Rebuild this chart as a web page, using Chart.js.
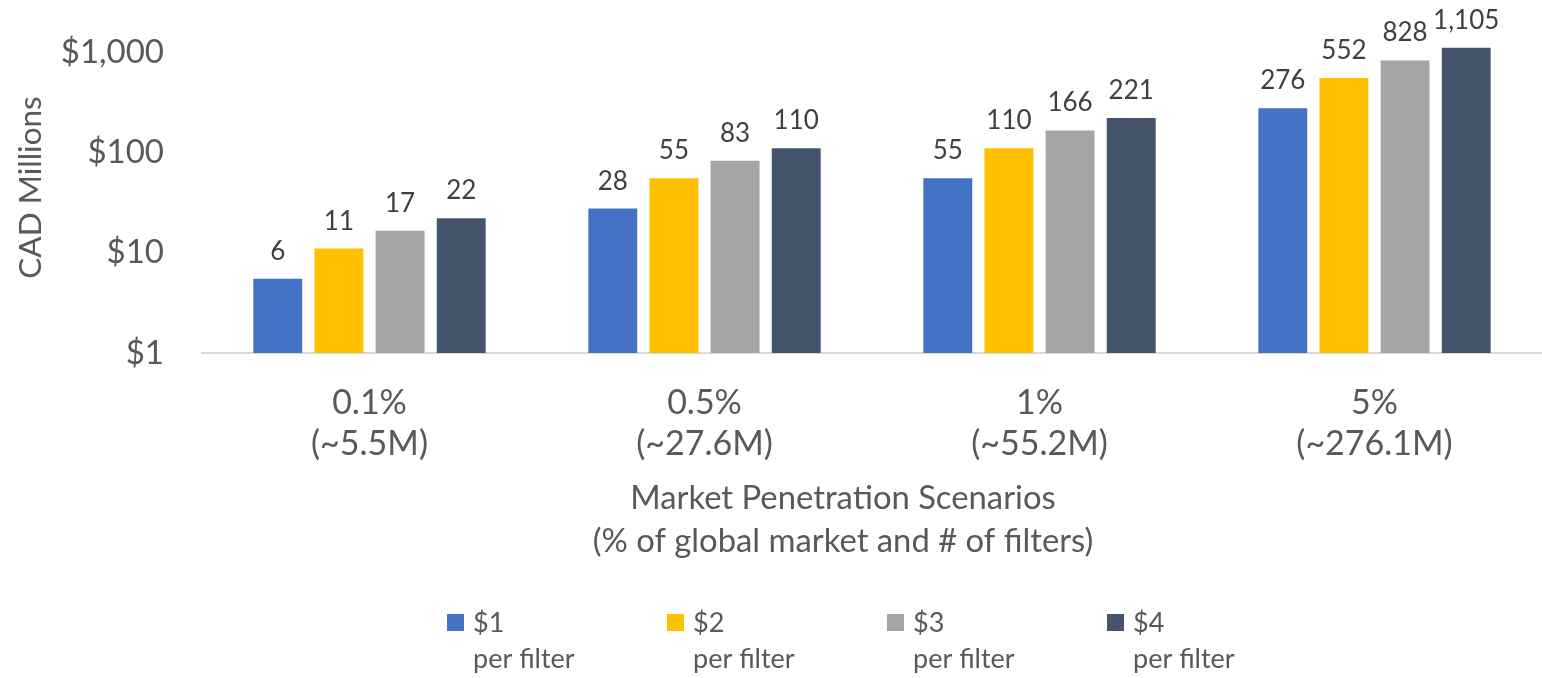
<!DOCTYPE html>
<html>
<head>
<meta charset="utf-8">
<script src="https://cdn.jsdelivr.net/npm/chart.js@4"></script>
<style>
html, body { margin: 0; padding: 0; background: #fff; }
</style>
</head>
<body>
<canvas id="myChart" width="1542" height="678"></canvas>
<script>
// categories and series
var categories = [['0.1%', '(~5.5M)'], ['0.5%', '(~27.6M)'], ['1%', '(~55.2M)'], ['5%', '(~276.1M)']];
var seriesNames = ['$1', '$2', '$3', '$4'];
var seriesColors = ['#4472C4', '#FFC000', '#A5A5A5', '#44546A'];
var perFilter1 = [5.5, 27.6, 55.2, 276.1];
var perFilter2 = [11, 55.2, 110.4, 552.3];
var perFilter3 = [16.6, 82.8, 165.6, 828.4];
var perFilter4 = [22.1, 110.4, 220.8, 1104.6];
var yTicks = [1, 10, 100, 1000];
var xTitle = ['Market Penetration Scenarios', '(% of global market and # of filters)'];
var yTitle = 'CAD Millions';

var textGrey = '#595959';
var font = 'Lato';

// value labels above the bars
var barLabels = {
    id: 'barLabels',
    afterDatasetsDraw: function(chart) {
        var ctx = chart.ctx;
        ctx.save();
        ctx.font = '26px ' + font;
        ctx.fillStyle = '#404040';
        ctx.textAlign = 'center';
        ctx.textBaseline = 'alphabetic';
        chart.data.datasets.forEach(function(ds, i) {
            chart.getDatasetMeta(i).data.forEach(function(bar, j) {
                ctx.fillText(Math.round(ds.data[j]).toLocaleString('en-US'), bar.x, bar.y - 19);
            });
        });
        ctx.restore();
    }
};

// x axis title, centred a bit left of the plot like the original
var axisTitle = {
    id: 'axisTitle',
    afterDraw: function(chart) {
        var ctx = chart.ctx;
        var cx = 843, base = chart.chartArea.bottom + 156;
        ctx.save();
        ctx.font = '32.8px ' + font;
        ctx.fillStyle = textGrey;
        ctx.textAlign = 'center';
        ctx.textBaseline = 'alphabetic';
        xTitle.forEach(function(line, i) {
            ctx.fillText(line, cx, base + i * 43);
        });
        ctx.restore();
    }
};

// legend row at the bottom, two lines per item
var legendRow = {
    id: 'legendRow',
    afterDraw: function(chart) {
        var ctx = chart.ctx;
        var startX = 447, step = 220, box = 17, top = 614;
        ctx.save();
        ctx.font = '27px ' + font;
        ctx.textBaseline = 'alphabetic';
        ctx.textAlign = 'left';
        chart.data.datasets.forEach(function(ds, i) {
            var x = startX + i * step;
            ctx.fillStyle = ds.backgroundColor;
            ctx.fillRect(x, top, box, box);
            ctx.fillStyle = textGrey;
            ctx.fillText(ds.label, x + 26, top + 18);
            ctx.fillText('per filter', x + 26, top + 54);
        });
        ctx.restore();
    }
};

var seriesData = [perFilter1, perFilter2, perFilter3, perFilter4];

var ctx = document.getElementById('myChart').getContext('2d');
var chart = new Chart(ctx, {
    type: 'bar',
    data: {
        labels: categories,
        datasets: seriesData.map(function(d, i) {
            return {
                label: seriesNames[i],
                data: d,
                backgroundColor: seriesColors[i],
                categoryPercentage: 0.73,
                barPercentage: 0.8
            };
        })
    },
    options: {
        responsive: false,
        animation: false,
        layout: { padding: { top: 22, bottom: 85, left: 0, right: 0 } },
        plugins: {
            legend: { display: false },
            tooltip: { enabled: false }
        },
        scales: {
            x: {
                afterFit: function(scale) { scale.height = 240; },
                grid: { display: false, drawTicks: false },
                border: { display: true, color: '#D9D9D9', width: 2 },
                ticks: {
                    padding: 30,
                    color: textGrey,
                    maxRotation: 0,
                    autoSkip: false,
                    font: { family: font, size: 34, lineHeight: 1.2 }
                }
            },
            y: {
                type: 'logarithmic',
                min: 1,
                max: 2000,
                afterBuildTicks: function(scale) {
                    scale.ticks = yTicks.map(function(v) { return { value: v }; });
                },
                afterFit: function(scale) {
                    scale.width = 202;
                    scale.paddingTop = 0;
                    scale.paddingBottom = 0;
                },
                grid: { display: false, drawTicks: false },
                border: { display: false },
                ticks: {
                    padding: 38,
                    color: textGrey,
                    font: { family: font, size: 33 },
                    callback: function(v) { return '$' + Number(v).toLocaleString('en-US'); }
                },
                title: {
                    display: true,
                    text: yTitle,
                    color: textGrey,
                    font: { family: font, size: 31.5 },
                    padding: { top: 12, bottom: 0 }
                }
            }
        }
    },
    plugins: [barLabels, axisTitle, legendRow]
});
</script>
</body>
</html>
